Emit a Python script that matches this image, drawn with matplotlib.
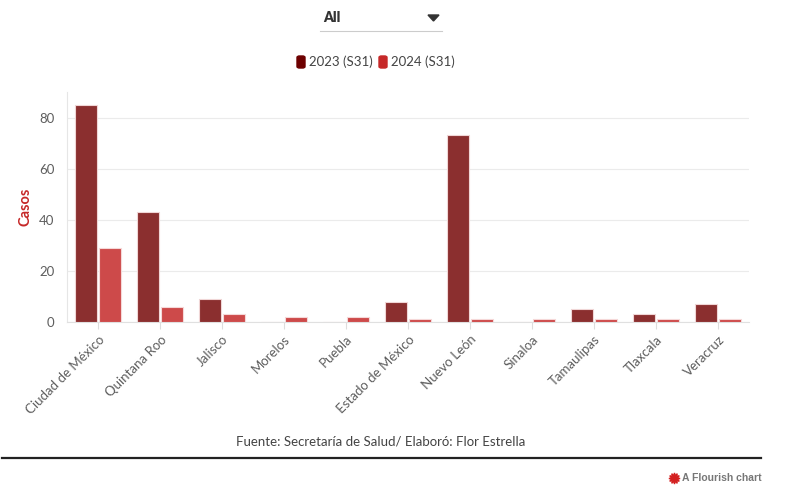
import numpy as np
import matplotlib
matplotlib.use("Agg")
import matplotlib.pyplot as plt
from matplotlib.patches import FancyBboxPatch, Polygon
from matplotlib.lines import Line2D

plt.rcParams["font.family"] = ["Lato", "DejaVu Sans"]

states = ["Ciudad de México", "Quintana Roo", "Jalisco", "Morelos", "Puebla",
          "Estado de México", "Nuevo León", "Sinaloa", "Tamaulipas", "Tlaxcala",
          "Veracruz"]
cases_2023 = [85, 43, 9, 0, 0, 8, 73, 0, 5, 3, 7]
cases_2024 = [29, 6, 3, 2, 2, 1, 1, 1, 1, 1, 1]
series_names = ["2023 (S31)", "2024 (S31)"]
yticks = [0, 20, 40, 60, 80]

W, H = 804, 497
fig = plt.figure(figsize=(W / 100, H / 100), dpi=100)
ax = fig.add_axes([67 / W, (H - 322) / H, (749 - 67) / W, (322 - 92) / H])

x = np.arange(len(states))
bw = 0.355
ax.bar(x - 0.2, cases_2023, width=bw, color="#8b2f2f", edgecolor="#f0d6d6",
       linewidth=0.8, zorder=3)
ax.bar(x + 0.2, cases_2024, width=bw, color="#cd4a4a", edgecolor="#f5d8d8",
       linewidth=0.8, zorder=3)

ax.set_xlim(-0.5, len(states) - 0.5)
ax.set_ylim(0, 90)
ax.set_yticks(yticks)
ax.yaxis.grid(True, color="#ebebeb", linewidth=0.8, zorder=0)
ax.set_axisbelow(True)
for s in ["top", "right"]:
    ax.spines[s].set_visible(False)
ax.spines["left"].set_color("#e6e6e6")
ax.spines["bottom"].set_color("#e0e0e0")
ax.tick_params(axis="y", length=0, labelsize=9.5, labelcolor="#5e5e5e", pad=9)
ax.tick_params(axis="x", length=5, color="#dddddd", labelsize=9.5,
               labelcolor="#5e5e5e", pad=3)
ax.set_xticks(x)
ax.set_xticklabels(states, rotation=45, ha="right", rotation_mode="anchor")
ax.set_ylabel("Casos", color="#c62828", fontsize=10.5, fontweight="bold", labelpad=5)

# dropdown
fig.text(323 / W, 1 - 18 / H, "All", fontsize=10, fontweight="heavy",
         color="#333333", va="center", ha="left")
fig.add_artist(Line2D([320 / W, 442 / W], [1 - 31 / H, 1 - 31 / H],
                      color="#cccccc", linewidth=0.8))
fig.add_artist(Polygon([[428 / W, 1 - 15 / H], [439 / W, 1 - 15 / H],
                        [433.5 / W, 1 - 21 / H]], closed=True,
                       color="#333333"))

# legend
leg_colors = ["#6d0000", "#c62828"]
leg_x = [297, 379]
for lx, c, name in zip(leg_x, leg_colors, series_names):
    fig.add_artist(FancyBboxPatch((lx / W, 1 - 68 / H), 8 / W, 12 / H,
                                  boxstyle="round,pad=0,rounding_size=0.003",
                                  transform=fig.transFigure, color=c))
    fig.text((lx + 12) / W, 1 - 62 / H, name, fontsize=9.5, color="#444444",
             va="center", ha="left")

# footer
fig.text(381 / W, 1 - 441 / H, "Fuente: Secretaría de Salud/ Elaboró: Flor Estrella",
         fontsize=9.5, color="#444444", ha="center", va="center")
fig.add_artist(Line2D([2 / W, 761 / W], [1 - 458 / H, 1 - 458 / H],
                      color="#222222", linewidth=1.6))
fig.text(682 / W, 1 - 478 / H, "A Flourish chart", fontsize=7.5, color="#777777",
         fontweight="bold", family=["Liberation Sans", "DejaVu Sans"],
         ha="left", va="center")
fig.add_artist(Line2D([674.5 / W], [1 - 478 / H], marker=(12, 1, 0),
                      markersize=8, color="#d42020", linestyle="none"))

fig.savefig("out.png", dpi=100, facecolor="white")
